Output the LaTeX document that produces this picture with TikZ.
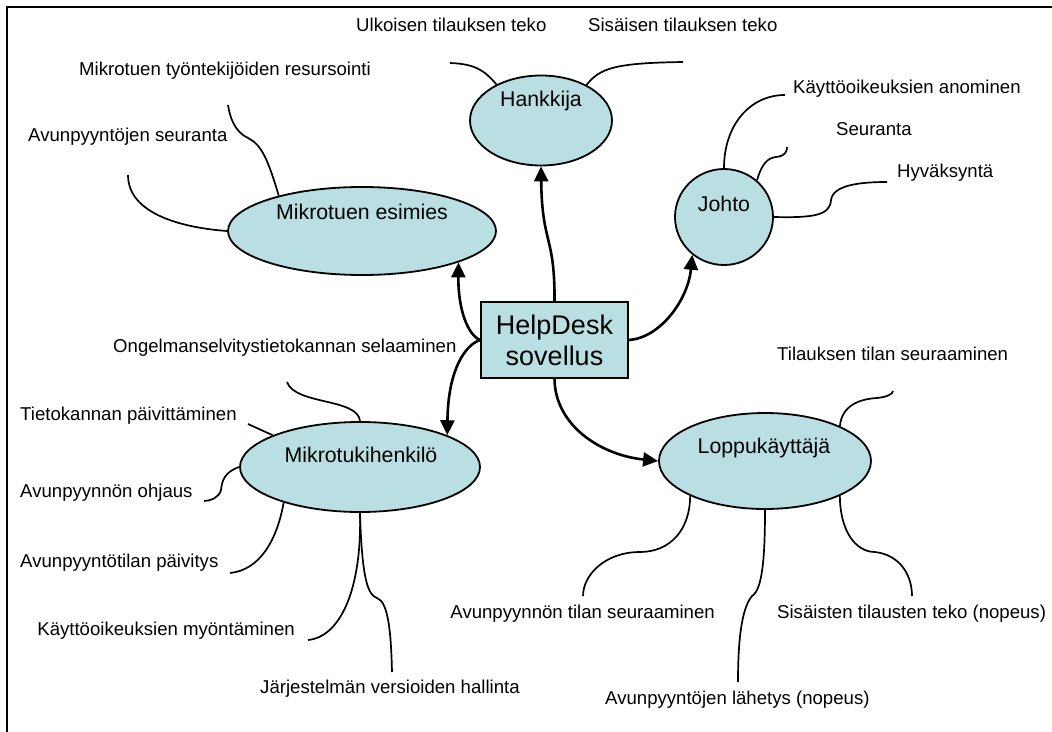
\documentclass[tikz,border=0pt]{standalone}
\usepackage{fontspec}
\setmainfont{Liberation Sans}
\usetikzlibrary{shapes.geometric,arrows.meta}
\definecolor{nodefill}{RGB}{186,223,227}
\tikzset{
  actor/.style={ellipse, draw, line width=1.8bp, fill=nodefill, inner sep=0pt},
  appbox/.style={rectangle, draw, line width=1.8bp, fill=nodefill,
    minimum width=147bp, minimum height=76bp, inner sep=0pt},
  actorname/.style={font=\fontsize{21.3bp}{25bp}\selectfont, anchor=base, inner sep=0pt},
  task/.style={font=\fontsize{18.6bp}{22bp}\selectfont, inner sep=0pt},
  branch/.style={line width=1.7bp},
  flow/.style={line width=2.6bp, -{Triangle[length=15bp,width=14bp]}},
}
\begin{document}
\begin{tikzpicture}[x=1bp,y=-1bp]
\useasboundingbox (0,0) rectangle (1052,732);
% frame
\draw[line width=2.2bp] (7,732) -- (7,7) -- (1052,7);

% actors and the application
\node[actor, minimum width=142bp, minimum height=90bp] (hank) at (541,120.5) {};
\node[actor, minimum width=98bp, minimum height=96bp] (johto) at (724,217) {};
\node[actor, minimum width=268bp, minimum height=88bp] (esim) at (362,231) {};
\node[actor, minimum width=240bp, minimum height=90bp] (mtk) at (360,467) {};
\node[actor, minimum width=212bp, minimum height=96bp] (lop) at (765,461) {};
\node[appbox] (hd) at (554.5,340) {};

\node[actorname] (hankT) at (541,107) {Hankkija};
\node[actorname] (johtoT) at (724,211) {Johto};
\node[actorname] (esimT) at (362,219) {Mikrotuen esimies};
\node[actorname] (mtkT) at (361,462) {Mikrotukihenkilö};
\node[actorname] (lopT) at (764,453) {Loppukäyttäjä};
\node[font=\fontsize{27bp}{31.5bp}\selectfont, align=center, inner sep=0pt] (hdT) at (554.5,340.5) {HelpDesk\\sovellus};

% flows from the application to the actors
\draw[flow] (hd.north) .. controls (555,235) and (542,245) .. (hank.south);
\draw[flow] (hd.west) .. controls (468,335) and (458,310) .. (esim.-18);
\draw[flow] (hd.west) .. controls (465,345) and (448,370) .. (mtk.20);
\draw[flow] (hd.east) .. controls (660,338) and (688,300) .. (johto.230);
\draw[flow] (hd.south) .. controls (555,425) and (600,455) .. (lop.west);

% tasks
\node[task, anchor=base west] (t1) at (356,32) {Ulkoisen tilauksen teko};
\node[task, anchor=base west] (t2) at (588,32) {Sisäisen tilauksen teko};
\node[task, anchor=base west] (t3) at (79,76) {Mikrotuen työntekijöiden resursointi};
\node[task, anchor=base west] (t4) at (28,142) {Avunpyyntöjen seuranta};
\node[task, anchor=base west] (t5) at (793,94) {Käyttöoikeuksien anominen};
\node[task, anchor=base west] (t6) at (836,136) {Seuranta};
\node[task, anchor=base west] (t7) at (897,178) {Hyväksyntä};
\node[task, anchor=base west] (t8) at (113,352) {Ongelmanselvitystietokannan selaaminen};
\node[task, anchor=base west] (t9) at (20,420) {Tietokannan päivittäminen};
\node[task, anchor=base west] (t10) at (20,497) {Avunpyynnön ohjaus};
\node[task, anchor=base west] (t11) at (20,567) {Avunpyyntötilan päivitys};
\node[task, anchor=base east] (t12) at (295,635) {Käyttöoikeuksien myöntäminen};
\node[task, anchor=base west] (t13) at (260,693) {Järjestelmän versioiden hallinta};
\node[task, anchor=base west] (t14) at (777,360) {Tilauksen tilan seuraaminen};
\node[task, anchor=base east] (t15) at (715,618) {Avunpyynnön tilan seuraaminen};
\node[task, anchor=base west] (t16) at (777,618) {Sisäisten tilausten teko (nopeus)};
\node[task, anchor=base west] (t17) at (605,704) {Avunpyyntöjen lähetys (nopeus)};

% free ends of the task branches
\coordinate (e1) at (450,63);
\coordinate (e2) at (683,62);
\coordinate (e3) at (228,105);
\coordinate (e4) at (128,175);
\coordinate (e5) at (785,95);
\coordinate (e6) at (787,147);
\coordinate (e7) at (887,182);
\coordinate (e8) at (287,382);
\coordinate (e9) at (248,424);
\coordinate (e10) at (204,501);
\coordinate (e11) at (230,573);
\coordinate (e12) at (308,640);
\coordinate (e13) at (392,672);
\coordinate (e14) at (893,391);
\coordinate (e15) at (583,596);
\coordinate (e16) at (912,596);
\coordinate (e17) at (738,682);

% branches
\draw[branch] (hank.141) .. controls (484,70) and (475,64) .. (e1);
\draw[branch] (hank.38) .. controls (600,68) and (615,63) .. (e2);
\draw[branch] (esim.157) .. controls (268,160) and (262,145) .. (248,138)
  .. controls (235,132) and (230,118) .. (e3);
\draw[branch] (esim.west) .. controls (185,228) and (128,215) .. (e4);
\draw[branch] (johto.north) .. controls (724,125) and (750,95) .. (e5);
\draw[branch] (johto.48) .. controls (762,163) and (768,158) .. (776,157)
  .. controls (785,156) and (787,152) .. (e6);
\draw[branch] (johto.east) .. controls (815,218) and (830,215) .. (831,200)
  .. controls (833,185) and (860,182) .. (e7);
\draw[branch] (mtk.north) .. controls (358,398) and (295,405) .. (e8);
\draw[branch] (mtk.160) -- (e9);
\draw[branch] (mtk.west) .. controls (225,472) and (222,480) .. (221,490)
  .. controls (219,498) and (210,501) .. (e10);
\draw[branch] (mtk.205) .. controls (277,540) and (260,570) .. (e11);
\draw[branch] (mtk.south) .. controls (362,590) and (340,637) .. (e12);
\draw[branch] (mtk.south) .. controls (362,580) and (368,595) .. (377,598)
  .. controls (388,602) and (391,630) .. (e13);
\draw[branch] (lop.25) .. controls (842,405) and (860,399) .. (877,398)
  .. controls (887,397) and (893,394) .. (e14);
\draw[branch] (lop.205) .. controls (690,530) and (670,552) .. (640,552)
  .. controls (605,552) and (583,575) .. (e15);
\draw[branch] (lop.335) .. controls (840,530) and (855,552) .. (875,552)
  .. controls (900,555) and (912,575) .. (e16);
\draw[branch] (lop.south) .. controls (765,560) and (762,590) .. (752,596)
  .. controls (740,610) and (738,650) .. (e17);
\end{tikzpicture}
\end{document}
